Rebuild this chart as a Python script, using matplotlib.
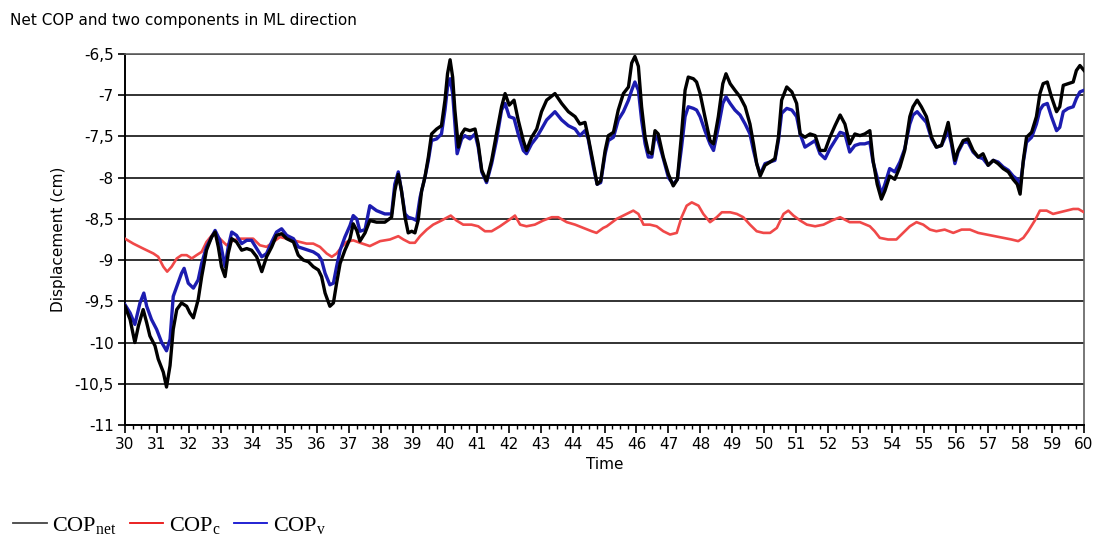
import matplotlib
matplotlib.use('Agg')
import matplotlib.pyplot as plt
from matplotlib.ticker import MultipleLocator, FuncFormatter

plt.rcParams['font.family'] = ['DejaVu Sans']
plt.rcParams['mathtext.fontset'] = 'custom'
plt.rcParams['mathtext.rm'] = 'Liberation Serif'

# Net COP (black)
t_net = [30.00, 30.16, 30.31, 30.42, 30.57, 30.68, 30.78, 30.94, 31.04, 31.20,
         31.30, 31.41, 31.51, 31.62, 31.77, 31.93, 32.03, 32.14, 32.29, 32.40,
         32.55, 32.71, 32.82, 32.92, 33.02, 33.13, 33.23, 33.34, 33.49, 33.65,
         33.81, 33.96, 34.12, 34.28, 34.43, 34.59, 34.74, 34.90, 35.06, 35.27,
         35.42, 35.58, 35.74, 35.89, 36.05, 36.15, 36.26, 36.41, 36.52, 36.62,
         36.73, 36.88, 37.04, 37.14, 37.25,
         37.35, 37.51, 37.66, 37.87, 38.13, 38.34, 38.44, 38.55, 38.65, 38.76,
         38.86, 38.97, 39.07, 39.17, 39.28, 39.38, 39.49, 39.59, 39.75, 39.90,
         40.01, 40.09, 40.17, 40.25, 40.32, 40.43, 40.53, 40.63, 40.79, 40.95,
         41.05, 41.16, 41.31, 41.47, 41.62, 41.78, 41.89, 42.02, 42.17, 42.30,
         42.46, 42.56, 42.72, 42.88, 43.03, 43.19, 43.45, 43.66, 43.87, 44.08,
         44.23, 44.39, 44.49, 44.65, 44.77, 44.88,
         45.02, 45.12, 45.28, 45.43, 45.59, 45.75, 45.85, 45.95, 46.06, 46.16,
         46.27, 46.37, 46.48, 46.58, 46.68, 46.84, 47.00, 47.15, 47.28, 47.41,
         47.52, 47.62, 47.78, 47.88, 47.99, 48.14, 48.30, 48.41, 48.56, 48.70,
         48.80, 48.93, 49.08, 49.24, 49.40, 49.55, 49.66, 49.76, 49.87, 50.02,
         50.18, 50.33, 50.44, 50.54, 50.70, 50.86, 51.01, 51.12, 51.27, 51.43,
         51.59, 51.74, 51.90, 52.05, 52.21, 52.37,
         52.52, 52.67, 52.83, 52.99, 53.14, 53.30, 53.40, 53.53, 53.66, 53.77,
         53.92, 54.08, 54.24, 54.39, 54.55, 54.65, 54.78, 54.91, 55.07, 55.23,
         55.38, 55.54, 55.68, 55.75, 55.85, 55.96, 56.06, 56.22, 56.37, 56.53,
         56.69, 56.84, 57.00, 57.16, 57.31, 57.47, 57.63, 57.78, 57.91, 58.00,
         58.10, 58.20, 58.36, 58.51, 58.62, 58.72, 58.85, 58.98, 59.14, 59.24,
         59.35, 59.50, 59.66, 59.76, 59.87, 60.00]
cop_net = [-9.56, -9.72, -10.0, -9.8, -9.6, -9.76, -9.92, -10.04, -10.2, -10.36,
           -10.54, -10.28, -9.84, -9.6, -9.52, -9.56, -9.64, -9.7, -9.48, -9.2,
           -8.88, -8.72, -8.66, -8.84, -9.08, -9.2, -8.92, -8.74, -8.78, -8.88,
           -8.86, -8.88, -8.96, -9.14, -8.96, -8.84, -8.7, -8.68, -8.74, -8.78,
           -8.94, -9.0, -9.02, -9.08, -9.12, -9.2, -9.4, -9.56, -9.52, -9.28,
           -9.04, -8.88, -8.74, -8.56, -8.64,
           -8.77, -8.67, -8.52, -8.54, -8.54, -8.48, -8.16, -7.96, -8.16, -8.48,
           -8.67, -8.65, -8.67, -8.52, -8.16, -8.0, -7.75, -7.47, -7.41, -7.37,
           -7.06, -6.74, -6.57, -6.78, -7.18, -7.63, -7.47, -7.41, -7.43, -7.41,
           -7.59, -7.91, -8.04, -7.79, -7.47, -7.14, -6.98, -7.12, -7.06, -7.3,
           -7.55, -7.67, -7.51, -7.41, -7.2, -7.06, -6.98, -7.1, -7.2, -7.26,
           -7.35, -7.33, -7.51, -7.83, -8.08, -8.04,
           -7.67, -7.49, -7.45, -7.18, -6.98, -6.9, -6.61, -6.53, -6.65, -7.14,
           -7.51, -7.69, -7.71, -7.43, -7.47, -7.75, -7.96, -8.1, -8.02, -7.47,
           -6.94, -6.78, -6.8, -6.84, -6.98, -7.26, -7.55, -7.59, -7.26, -6.86,
           -6.74, -6.86, -6.94, -7.02, -7.14, -7.35, -7.59, -7.83, -7.98, -7.85,
           -7.81, -7.77, -7.51, -7.06, -6.9, -6.96, -7.1, -7.47, -7.51, -7.47,
           -7.49, -7.67, -7.67, -7.51, -7.37, -7.24,
           -7.35, -7.59, -7.47, -7.49, -7.47, -7.43, -7.79, -8.08, -8.26, -8.16,
           -7.98, -8.02, -7.87, -7.67, -7.26, -7.14, -7.06, -7.14, -7.26, -7.51,
           -7.63, -7.61, -7.43, -7.33, -7.55, -7.79, -7.67, -7.55, -7.53, -7.67,
           -7.75, -7.71, -7.85, -7.79, -7.83, -7.89, -7.93, -8.02, -8.08, -8.2,
           -7.79, -7.51, -7.45, -7.26, -6.98, -6.86, -6.84, -7.02, -7.2, -7.14,
           -6.88, -6.86, -6.84, -6.7, -6.64, -6.7]

# COPv component (blue)
t_v = [30.00, 30.16, 30.31, 30.47, 30.59, 30.68, 30.83, 30.99, 31.15, 31.30,
       31.41, 31.51, 31.62, 31.77, 31.85, 31.98, 32.14, 32.29, 32.40, 32.55,
       32.71, 32.82, 32.97, 33.13, 33.23, 33.34, 33.49, 33.65, 33.81, 33.96,
       34.12, 34.28, 34.43, 34.59, 34.74, 34.90, 35.06, 35.27, 35.42, 35.58,
       35.74, 35.89, 36.05, 36.15, 36.26, 36.41, 36.52, 36.62, 36.73, 36.88,
       37.04, 37.14, 37.25,
       37.35, 37.51, 37.66, 37.87, 38.13, 38.34, 38.44, 38.55, 38.65, 38.76,
       38.86, 39.02, 39.12, 39.23, 39.38, 39.49, 39.59, 39.75, 39.90, 40.01,
       40.09, 40.17, 40.25, 40.32, 40.39, 40.53, 40.63, 40.79, 40.95, 41.05,
       41.16, 41.31, 41.47, 41.62, 41.78, 41.89, 42.02, 42.17, 42.30, 42.46,
       42.56, 42.72, 42.88, 43.03, 43.19, 43.45, 43.66, 43.87, 44.08, 44.23,
       44.39, 44.49, 44.65, 44.77, 44.88,
       45.02, 45.12, 45.28, 45.43, 45.59, 45.75, 45.85, 45.95, 46.06, 46.16,
       46.27, 46.37, 46.48, 46.58, 46.68, 46.84, 47.00, 47.15, 47.28, 47.41,
       47.52, 47.62, 47.78, 47.88, 47.99, 48.14, 48.30, 48.41, 48.56, 48.70,
       48.80, 48.93, 49.08, 49.24, 49.40, 49.55, 49.66, 49.76, 49.87, 50.02,
       50.18, 50.33, 50.44, 50.54, 50.70, 50.86, 51.01, 51.12, 51.27, 51.43,
       51.59, 51.74, 51.90, 52.05, 52.21, 52.37,
       52.52, 52.67, 52.83, 52.99, 53.14, 53.30, 53.40, 53.53, 53.66, 53.77,
       53.92, 54.08, 54.24, 54.39, 54.55, 54.65, 54.78, 54.91, 55.07, 55.23,
       55.38, 55.54, 55.68, 55.75, 55.85, 55.96, 56.06, 56.22, 56.37, 56.53,
       56.69, 56.84, 57.00, 57.16, 57.31, 57.47, 57.63, 57.78, 57.91, 58.00,
       58.10, 58.20, 58.36, 58.51, 58.62, 58.72, 58.85, 58.98, 59.14, 59.24,
       59.35, 59.50, 59.66, 59.76, 59.87, 60.00]
cop_v = [-9.54, -9.64, -9.78, -9.52, -9.4, -9.56, -9.72, -9.84, -10.0, -10.1,
         -9.96, -9.44, -9.32, -9.16, -9.1, -9.28, -9.34, -9.24, -9.04, -8.84,
         -8.72, -8.64, -8.76, -9.08, -8.84, -8.66, -8.7, -8.8, -8.76, -8.76,
         -8.86, -8.96, -8.92, -8.78, -8.66, -8.62, -8.7, -8.74, -8.84, -8.86,
         -8.88, -8.9, -8.94, -9.0, -9.16, -9.3, -9.28, -9.08, -8.88, -8.72,
         -8.58, -8.46, -8.5,
         -8.65, -8.63, -8.34, -8.4, -8.44, -8.44, -8.08, -7.93, -8.16, -8.44,
         -8.48, -8.5, -8.52, -8.24, -8.0, -7.79, -7.55, -7.53, -7.47, -7.18,
         -6.9, -6.8, -6.98, -7.35, -7.71, -7.53, -7.49, -7.53, -7.47, -7.63,
         -7.93, -8.06, -7.83, -7.55, -7.18, -7.1, -7.26, -7.28, -7.47, -7.67,
         -7.71, -7.59, -7.51, -7.41, -7.3, -7.2, -7.3, -7.37, -7.41, -7.49,
         -7.43, -7.53, -7.87, -8.08, -8.06,
         -7.71, -7.55, -7.51, -7.3, -7.2, -7.06, -6.94, -6.84, -6.94, -7.3,
         -7.59, -7.75, -7.75, -7.49, -7.55, -7.77, -8.0, -8.08, -8.02, -7.63,
         -7.26, -7.14, -7.16, -7.18, -7.26, -7.43, -7.59, -7.67, -7.39, -7.1,
         -7.02, -7.1, -7.18, -7.24, -7.35, -7.47, -7.67, -7.83, -7.96, -7.83,
         -7.81, -7.79, -7.55, -7.22, -7.16, -7.18, -7.26, -7.47, -7.63, -7.59,
         -7.55, -7.71, -7.77, -7.65, -7.55, -7.45,
         -7.47, -7.69, -7.61, -7.59, -7.59, -7.57, -7.81, -8.0, -8.2, -8.08,
         -7.89, -7.93, -7.81, -7.65, -7.35, -7.24, -7.2, -7.26, -7.33, -7.53,
         -7.63, -7.61, -7.49, -7.43, -7.59, -7.83, -7.69, -7.57, -7.57, -7.69,
         -7.75, -7.77, -7.85, -7.79, -7.81, -7.87, -7.91, -7.98, -8.02, -8.1,
         -7.81, -7.57, -7.51, -7.35, -7.18, -7.12, -7.1, -7.26, -7.43, -7.39,
         -7.2, -7.16, -7.14, -7.04, -6.96, -6.94]

# COPc component (red)
t_c = [30.00, 30.26, 30.57, 30.89, 31.04, 31.20, 31.32, 31.46, 31.62, 31.77,
       31.93, 32.09, 32.24, 32.40, 32.55, 32.76, 32.97, 33.18, 33.39, 33.60,
       33.81, 34.01, 34.22, 34.43, 34.64, 34.85, 35.06, 35.27, 35.47, 35.68,
       35.89, 36.10, 36.31, 36.47, 36.62, 36.78, 36.93, 37.14,
       37.35, 37.66, 37.98, 38.29, 38.55, 38.71, 38.91, 39.07, 39.23, 39.44,
       39.64, 39.90, 40.19, 40.37, 40.58, 40.84, 41.05, 41.26, 41.47, 41.73,
       41.99, 42.20, 42.36, 42.56, 42.82, 43.08, 43.35, 43.55, 43.82, 44.08,
       44.34, 44.60, 44.75, 44.96,
       45.07, 45.38, 45.69, 45.90, 46.06, 46.22, 46.42, 46.63, 46.84, 47.05,
       47.26, 47.41, 47.57, 47.73, 47.94, 48.09, 48.30, 48.51, 48.67, 48.93,
       49.14, 49.34, 49.55, 49.76, 49.97, 50.18, 50.39, 50.60, 50.75, 50.91,
       51.12, 51.33, 51.59, 51.85, 52.11, 52.37,
       52.67, 52.99, 53.30, 53.45, 53.61, 53.87, 54.13, 54.34, 54.55, 54.76,
       54.97, 55.18, 55.38, 55.64, 55.91, 56.17, 56.43, 56.69, 56.95, 57.21,
       57.47, 57.73, 57.94, 58.10, 58.25, 58.46, 58.62, 58.83, 59.03, 59.24,
       59.45, 59.66, 59.82, 60.00]
cop_c = [-8.74, -8.8, -8.86, -8.92, -8.96, -9.08, -9.14, -9.08, -8.98, -8.94,
         -8.94, -8.98, -8.94, -8.9, -8.78, -8.68, -8.74, -8.82, -8.76, -8.74,
         -8.74, -8.74, -8.82, -8.84, -8.78, -8.72, -8.74, -8.76, -8.78, -8.8,
         -8.8, -8.84, -8.92, -8.96, -8.92, -8.84, -8.78, -8.76,
         -8.79, -8.83, -8.77, -8.75, -8.71, -8.75, -8.79, -8.79, -8.71, -8.63,
         -8.57, -8.52, -8.46, -8.52, -8.57, -8.57, -8.59, -8.65, -8.65, -8.59,
         -8.52, -8.46, -8.57, -8.59, -8.57, -8.52, -8.48, -8.48, -8.54, -8.57,
         -8.61, -8.65, -8.67, -8.61,
         -8.59, -8.5, -8.44, -8.4, -8.44, -8.57, -8.57, -8.59, -8.65, -8.69,
         -8.67, -8.48, -8.34, -8.3, -8.34, -8.44, -8.54, -8.48, -8.42, -8.42,
         -8.44, -8.48, -8.57, -8.65, -8.67, -8.67, -8.61, -8.44, -8.4, -8.46,
         -8.52, -8.57, -8.59, -8.57, -8.52, -8.48,
         -8.54, -8.54, -8.59, -8.65, -8.73, -8.75, -8.75, -8.67, -8.59, -8.54,
         -8.57, -8.63, -8.65, -8.63, -8.67, -8.63, -8.63, -8.67, -8.69, -8.71,
         -8.73, -8.75, -8.77, -8.73, -8.65, -8.52, -8.4, -8.4, -8.44, -8.42,
         -8.4, -8.38, -8.38, -8.42]

fig = plt.figure(figsize=(10.99, 5.42), dpi=100)
ax = fig.add_axes([0.1137, 0.2159, 0.8727, 0.6845])

ax.plot(t_c, cop_c, color='#f04848', lw=1.9, zorder=3)
ax.plot(t_v, cop_v, color='#1c1cb0', lw=2.4, zorder=4)
ax.plot(t_net, cop_net, color='black', lw=2.4, zorder=5)

ax.set_xlim(30, 60)
ax.set_ylim(-11, -6.5)
ax.xaxis.set_major_locator(MultipleLocator(1))
ax.xaxis.set_minor_locator(MultipleLocator(0.25))
ax.yaxis.set_major_locator(MultipleLocator(0.5))
ax.yaxis.set_major_formatter(FuncFormatter(lambda v, p: '{:g}'.format(v).replace('.', ',')))

ax.grid(axis='y', color='#222222', lw=1.3, zorder=1)
ax.tick_params(axis='x', which='major', direction='out', length=6, width=1.2, labelsize=11, pad=3)
ax.tick_params(axis='x', which='minor', direction='out', length=3, width=1.0)
ax.tick_params(axis='y', direction='out', length=5, width=1.2, labelsize=11, pad=3)

for side in ['left', 'bottom']:
    ax.spines[side].set_color('black')
    ax.spines[side].set_linewidth(1.4)
for side in ['top', 'right']:
    ax.spines[side].set_color('#606060')
    ax.spines[side].set_linewidth(1.2)

ax.set_xlabel('Time', fontsize=11, labelpad=3)
ax.set_ylabel('Displacement (cm)', fontsize=11, labelpad=6)
fig.text(0.009, 0.962, 'Net COP and two components in ML direction', fontsize=11, va='center', ha='left')

# legend under the chart
h_net, = ax.plot([], [], color='#444444', lw=1.3)
h_c, = ax.plot([], [], color='#e81010', lw=1.3)
h_v, = ax.plot([], [], color='#1010d0', lw=1.3)
fig.legend([h_net, h_c, h_v],
           ['COP$_\\mathrm{net}$', 'COP$_\\mathrm{c}$', 'COP$_\\mathrm{v}$'],
           loc='lower left', bbox_to_anchor=(0.0, -0.015), ncol=3, frameon=False,
           prop={'family': 'Liberation Serif', 'size': 16},
           handlelength=1.5, handletextpad=0.25, columnspacing=0.6, borderaxespad=0.2)

fig.savefig('out.png', dpi=100)
